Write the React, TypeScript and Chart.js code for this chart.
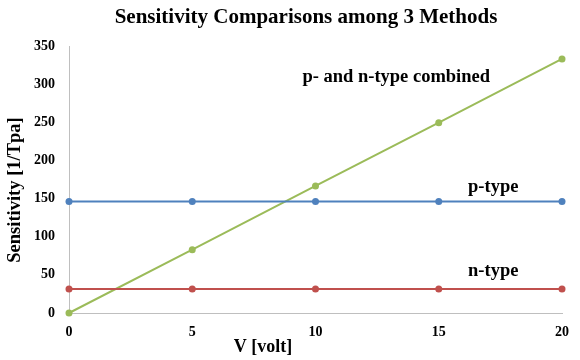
import React, { useEffect, useRef } from "react";
import { Chart, registerables } from "chart.js";

Chart.register(...registerables);

const voltages = [0, 5, 10, 15, 20];
const combined = [0, 83, 166.5, 249.5, 333];
const pType = [146, 146, 146, 146, 146];
const nType = [31.5, 31.5, 31.5, 31.5, 31.5];
const yTicks = [0, 50, 100, 150, 200, 250, 300, 350];

const titleText = "Sensitivity Comparisons among 3 Methods";
const xTitle = "V [volt]";
const yTitle = "Sensitivity [1/Tpa]";
const labels = [
  { text: "p- and n-type combined", x: 9.47, y: 309 },
  { text: "p-type", x: 16.19, y: 165 },
  { text: "n-type", x: 16.19, y: 55 },
];

const SERIF = "'Liberation Serif', 'Times New Roman', serif";

const textPlugin = {
  id: "texts",
  afterDraw(chart: any) {
    const ctx = chart.ctx;
    const xs = chart.scales.x;
    const ys = chart.scales.y;
    ctx.save();
    ctx.fillStyle = "#000";
    ctx.textBaseline = "middle";
    // main title
    ctx.font = `bold 21px ${SERIF}`;
    ctx.textAlign = "center";
    ctx.fillText(titleText, 306, 18);
    // x title
    ctx.font = `bold 18px ${SERIF}`;
    ctx.fillText(xTitle, 263, 347);
    // y title
    ctx.save();
    ctx.translate(15, 190);
    ctx.rotate(-Math.PI / 2);
    ctx.font = `bold 18.5px ${SERIF}`;
    ctx.fillText(yTitle, 0, 0);
    ctx.restore();
    // annotations
    ctx.font = `bold 18.5px ${SERIF}`;
    ctx.textAlign = "left";
    for (const l of labels) {
      ctx.fillText(l.text, xs.getPixelForValue(l.x), ys.getPixelForValue(l.y));
    }
    ctx.restore();
  },
};

export default function App() {
  const ref = useRef<HTMLCanvasElement | null>(null);
  useEffect(() => {
    if (!ref.current) return;
    const mk = (label: string, data: number[], color: string) => ({
      label,
      data: voltages.map((v, i) => ({ x: v, y: data[i] })),
      borderColor: color,
      backgroundColor: color,
      borderWidth: 2,
      pointRadius: 3.5,
      pointBorderWidth: 0,
      pointHoverRadius: 3.5,
      clip: false as any,
    });
    const chart = new Chart(ref.current, {
      type: "line",
      data: {
        datasets: [
          mk("p-type", pType, "#4f81bd"),
          mk("n-type", nType, "#c0504d"),
          mk("p- and n-type combined", combined, "#9bbb59"),
        ],
      },
      options: {
        animation: false,
        responsive: false,
        layout: { padding: { top: 46, right: 17, left: 0, bottom: 0 } },
        plugins: { legend: { display: false }, title: { display: false }, tooltip: { enabled: false } },
        scales: {
          x: {
            type: "linear",
            min: 0,
            max: 20,
            grid: { display: false, drawTicks: false },
            border: { display: true, color: "#bfbfbf", width: 1 },
            ticks: {
              stepSize: 5,
              padding: 11,
              color: "#000",
              font: { family: SERIF, size: 14, weight: "bold" },
            },
            afterFit: (s: any) => {
              s.height = 47;
            },
          },
          y: {
            min: 0,
            max: 350,
            grid: { display: false, drawTicks: false },
            border: { display: true, color: "#bfbfbf", width: 1 },
            afterBuildTicks: (s: any) => {
              s.ticks = yTicks.map((v) => ({ value: v }));
            },
            ticks: {
              padding: 14,
              color: "#000",
              font: { family: SERIF, size: 14, weight: "bold" },
            },
            afterFit: (s: any) => {
              s.width = 69;
            },
          },
        },
      },
      plugins: [textPlugin],
    });
    return () => chart.destroy();
  }, []);
  return (
    <div style={{ position: "absolute", left: 0, top: 0, width: 580, height: 360, background: "#fff" }}>
      <canvas ref={ref} width={580} height={360} style={{ width: 580, height: 360 }} />
    </div>
  );
}
